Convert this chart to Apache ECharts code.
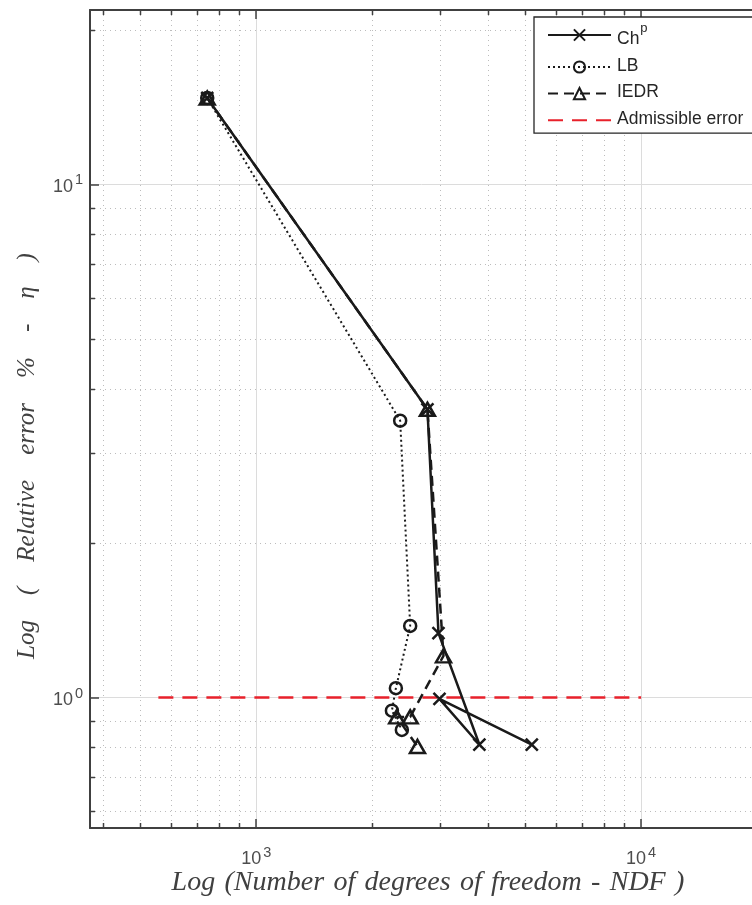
<!DOCTYPE html>
<html>
<head>
<meta charset="utf-8">
<script src="https://cdn.jsdelivr.net/npm/echarts@6/dist/echarts.min.js"></script>
<style>
  html, body { margin: 0; padding: 0; background: #fff; }
  #chart { width: 752px; height: 905px; }
</style>
</head>
<body>
<div id="chart"></div>
<script>
// Convergence of the relative error versus number of degrees of freedom (log-log)
const ndfChp  = [746, 2785, 2975, 3800, 2993, 5200];
const etaChp  = [14.73, 3.645, 1.335, 0.81, 0.994, 0.81];

const ndfLB   = [746, 2366, 2512, 2306, 2252, 2390];
const etaLB   = [14.73, 3.463, 1.379, 1.043, 0.943, 0.865];

const ndfIEDR = [746, 2785, 3066, 2512, 2317, 2624];
const etaIEDR = [14.73, 3.645, 1.206, 0.917, 0.917, 0.803];

const ndfAdm  = [557, 10000];
const etaAdm  = [1, 1];

// axis ranges and minor tick positions
const xRange = [370, 20000];
const yRange = [0.557, 21.86];
const xMinorTicks = [400, 500, 600, 700, 800, 900, 2000, 3000, 4000, 5000, 6000, 7000, 8000, 9000];
const yMinorTicks = [0.6, 0.7, 0.8, 0.9, 2, 3, 4, 5, 6, 7, 8, 9, 20];

const seriesNames = ['Chp', 'LB', 'IEDR', 'Admissible error'];
const xTitle = 'Log (Number of degrees of freedom - NDF )';
const yTitle = 'Log ( Relative error % - \u03b7 )';

const pairs = (xs, ys) => xs.map((x, i) => [x, ys[i]]);

const SANS = '"Liberation Sans", Arial, Helvetica, sans-serif';
const SERIF = '"Liberation Serif", "Times New Roman", serif';
const AXIS_COLOR = '#404040';
const LABEL_COLOR = '#4d4d4d';
const INK = '#1a1a1a';

function powLabel(v) {
  const e = Math.log10(v);
  const r = Math.round(e);
  if (Math.abs(e - r) > 1e-6) return '';
  return '{b|10}{e|' + r + '}';
}
const labelRich = {
  b: { fontSize: 18, fontFamily: SANS, color: LABEL_COLOR, lineHeight: 23, verticalAlign: 'bottom' },
  e: { fontSize: 14.5, fontFamily: SANS, color: LABEL_COLOR, lineHeight: 16, verticalAlign: 'top', padding: [0, 0, 0, 2] }
};

const chart = echarts.init(document.getElementById('chart'), null, { renderer: 'canvas' });

const minorGridStyle = { stroke: '#bcbcbc', lineWidth: 1, lineDash: [1, 4] };
const minorTickStyle = { stroke: AXIS_COLOR, lineWidth: 1.5 };

function renderXMinor(params, api) {
  const cs = params.coordSys;
  const px = Math.round(api.coord([api.value(0), yRange[0]])[0]) + 0.5;
  const top = cs.y, bottom = cs.y + cs.height;
  return {
    type: 'group',
    children: [
      { type: 'line', shape: { x1: px, y1: top, x2: px, y2: bottom }, style: minorGridStyle, silent: true },
      { type: 'line', shape: { x1: px, y1: bottom, x2: px, y2: bottom - 5 }, style: minorTickStyle, silent: true },
      { type: 'line', shape: { x1: px, y1: top, x2: px, y2: top + 5 }, style: minorTickStyle, silent: true }
    ]
  };
}
function renderYMinor(params, api) {
  const cs = params.coordSys;
  const py = Math.round(api.coord([xRange[0], api.value(1)])[1]) + 0.5;
  const left = cs.x, right = cs.x + cs.width;
  return {
    type: 'group',
    children: [
      { type: 'line', shape: { x1: left, y1: py, x2: right, y2: py }, style: minorGridStyle, silent: true },
      { type: 'line', shape: { x1: left, y1: py, x2: left + 5, y2: py }, style: minorTickStyle, silent: true }
    ]
  };
}

const symCross = 'path://M0,0L10,10M0,10L10,0';
const symTri = 'path://M5,0L10,8.66L0,8.66Z';

const option = {
  animation: false,
  backgroundColor: '#ffffff',
  grid: { left: 90, top: 10, width: 667, height: 818, outerBoundsMode: 'none', containLabel: false },
  xAxis: [
    {
      type: 'log', logBase: 10, min: xRange[0], max: xRange[1], position: 'bottom',
      axisLine: { show: true, lineStyle: { color: AXIS_COLOR, width: 2 } },
      axisTick: { show: true, inside: true, length: 9, lineStyle: { color: AXIS_COLOR, width: 1.5 } },
      axisLabel: { formatter: powLabel, rich: labelRich, margin: 17 },
      splitLine: { show: true, lineStyle: { color: '#dcdcdc', width: 1 } }
    },
    {
      type: 'log', logBase: 10, min: xRange[0], max: xRange[1], position: 'top',
      axisLine: { show: true, lineStyle: { color: AXIS_COLOR, width: 2 } },
      axisTick: { show: true, inside: true, length: 9, lineStyle: { color: AXIS_COLOR, width: 1.5 } },
      axisLabel: { show: false },
      splitLine: { show: false }
    }
  ],
  yAxis: {
    type: 'log', logBase: 10, min: yRange[0], max: yRange[1],
    axisLine: { show: true, lineStyle: { color: AXIS_COLOR, width: 2 } },
    axisTick: { show: true, inside: true, length: 9, lineStyle: { color: AXIS_COLOR, width: 1.5 } },
    axisLabel: { formatter: powLabel, rich: labelRich, margin: 7 },
    splitLine: { show: true, lineStyle: { color: '#dcdcdc', width: 1 } }
  },
  legend: {
    data: seriesNames,
    orient: 'vertical',
    left: 534, top: 17,
    padding: [4.5, 24, 5, 13],
    itemWidth: 63, itemHeight: 14, itemGap: 8.5,
    borderColor: '#262626', borderWidth: 1.3,
    backgroundColor: '#ffffff',
    z: 10,
    formatter: name => name === 'Chp' ? '{n|Ch}{s|p}' : '{n|' + name + '}',
    textStyle: {
      fontFamily: SANS, fontSize: 17.5, color: '#262626', padding: [0, 0, 0, 1],
      rich: {
        n: { fontFamily: SANS, fontSize: 17.5, color: '#262626', lineHeight: 16, verticalAlign: 'bottom' },
        s: { fontFamily: SANS, fontSize: 13, color: '#262626', lineHeight: 27, verticalAlign: 'top', padding: [0, 0, 0, 1] }
      }
    }
  },
  graphic: [
    {
      type: 'text', x: 428, y: 883, z: 5,
      style: {
        text: xTitle.replace(/ /g, ' \u200a'),
        font: 'italic 28px ' + SERIF, fill: AXIS_COLOR,
        align: 'center', verticalAlign: 'middle'
      }
    },
    {
      type: 'text', x: 27, y: 456, rotation: Math.PI / 2, z: 5,
      style: {
        text: yTitle.replace(/ /g, '\u2003'),
        font: 'italic 25px ' + SERIF, fill: AXIS_COLOR,
        align: 'center', verticalAlign: 'middle'
      }
    }
  ],
  series: [
    {
      type: 'custom', name: 'xMinor', silent: true, z: 1,
      renderItem: renderXMinor,
      data: xMinorTicks.map(v => [v, 1])
    },
    {
      type: 'custom', name: 'yMinor', silent: true, z: 1,
      renderItem: renderYMinor,
      data: yMinorTicks.map(v => [1000, v])
    },
    {
      name: 'Admissible error', type: 'line', z: 3,
      data: pairs(ndfAdm, etaAdm),
      symbol: 'none',
      lineStyle: { color: '#e8212b', width: 2.5, type: [15, 9] },
      itemStyle: { color: 'transparent', borderWidth: 0 }
    },
    {
      name: 'LB', type: 'line', z: 4,
      data: pairs(ndfLB, etaLB),
      symbol: 'circle', symbolSize: 12,
      lineStyle: { color: INK, width: 2, type: [2, 3] },
      itemStyle: { color: 'none', borderColor: INK, borderWidth: 2.5 }
    },
    {
      name: 'IEDR', type: 'line', z: 4,
      data: pairs(ndfIEDR, etaIEDR),
      symbol: symTri, symbolSize: [15, 13],
      lineStyle: { color: INK, width: 2.5, type: [10, 6] },
      itemStyle: { color: 'none', borderColor: INK, borderWidth: 2.5 }
    },
    {
      name: 'Chp', type: 'line', z: 4,
      data: pairs(ndfChp, etaChp),
      symbol: symCross, symbolSize: 12,
      lineStyle: { color: INK, width: 2.5 },
      itemStyle: { color: 'none', borderColor: INK, borderWidth: 2.5 }
    }
  ]
};

chart.setOption(option);
</script>
</body>
</html>
